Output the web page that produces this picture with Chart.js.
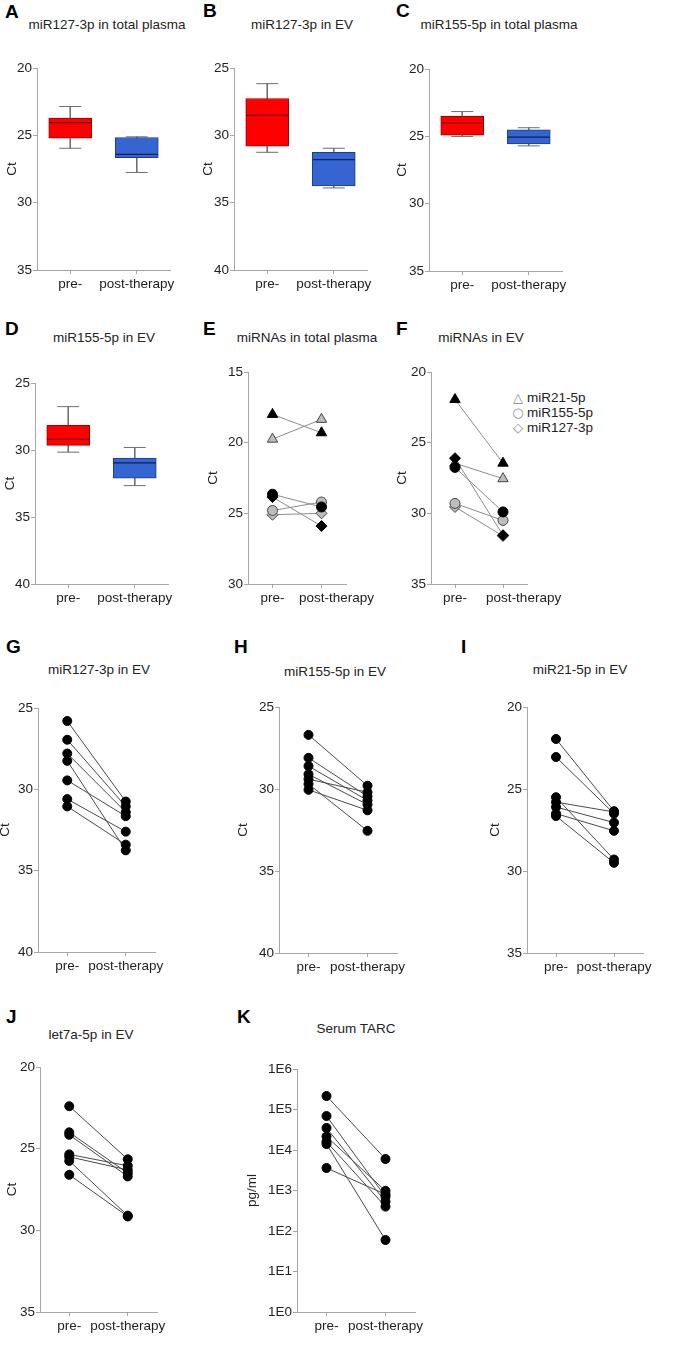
<!DOCTYPE html>
<html><head><meta charset="utf-8">
<script src="https://cdn.jsdelivr.net/npm/chart.js@4.4.0/dist/chart.umd.min.js"></script>
<style>
html,body{margin:0;padding:0;background:#fff;}
body{width:684px;height:1350px;position:relative;overflow:hidden;font-family:'Liberation Sans',Arial,sans-serif;color:#222;}
canvas{position:absolute;}
.lt{position:absolute;font-weight:bold;font-size:19px;line-height:19px;color:#000;}
.tt{position:absolute;font-size:13.5px;line-height:14px;white-space:nowrap;transform:translate(-50%,-50%);color:#222;}
.lg{position:absolute;font-size:13.5px;line-height:14px;white-space:nowrap;transform:translateY(-50%);color:#222;}
.sym{display:inline-block;width:12px;text-align:center;color:#8a8a8a;margin-right:3px;font-family:'DejaVu Sans',sans-serif;font-size:13px;}
</style></head><body>

<div class="lt" style="left:5px;top:2px">A</div>
<div class="lt" style="left:203px;top:1px">B</div>
<div class="lt" style="left:396px;top:1px">C</div>
<div class="lt" style="left:5px;top:319px">D</div>
<div class="lt" style="left:203px;top:319px">E</div>
<div class="lt" style="left:396px;top:319px">F</div>
<div class="lt" style="left:6px;top:637px">G</div>
<div class="lt" style="left:234px;top:637px">H</div>
<div class="lt" style="left:461px;top:637px">I</div>
<div class="lt" style="left:6px;top:1007px">J</div>
<div class="lt" style="left:237px;top:1007px">K</div>

<div class="tt" style="left:107px;top:25px">miR127-3p in total plasma</div>
<div class="tt" style="left:302px;top:25px">miR127-3p in EV</div>
<div class="tt" style="left:499px;top:25px">miR155-5p in total plasma</div>
<div class="tt" style="left:104px;top:338px">miR155-5p in EV</div>
<div class="tt" style="left:307px;top:338px">miRNAs in total plasma</div>
<div class="tt" style="left:481px;top:338px">miRNAs in EV</div>
<div class="tt" style="left:99px;top:670px">miR127-3p in EV</div>
<div class="tt" style="left:335px;top:672px">miR155-5p in EV</div>
<div class="tt" style="left:580px;top:670px">miR21-5p in EV</div>
<div class="tt" style="left:91px;top:1035px">let7a-5p in EV</div>
<div class="tt" style="left:356px;top:1029px">Serum TARC</div>

<div class="lg" style="left:512px;top:398px"><span class="sym">△</span>miR21-5p</div>
<div class="lg" style="left:512px;top:413px"><span class="sym">○</span>miR155-5p</div>
<div class="lg" style="left:512px;top:428px"><span class="sym">◇</span>miR127-3p</div>

<canvas id="cA"></canvas><canvas id="cB"></canvas><canvas id="cC"></canvas>
<canvas id="cD"></canvas><canvas id="cE"></canvas><canvas id="cF"></canvas>
<canvas id="cG"></canvas><canvas id="cH"></canvas><canvas id="cI"></canvas>
<canvas id="cJ"></canvas><canvas id="cK"></canvas>

<script>
// ---------------- DATA ----------------
const categories = ['pre-', 'post-therapy'];

// Box plots: [min, q1, median, q3, max] of Ct
const boxA_pre  = [22.85, 23.7, 24.05, 25.2, 25.95];
const boxA_post = [25.1, 25.15, 26.4, 26.65, 27.75];
const boxB_pre  = [26.15, 27.25, 28.5, 30.8, 31.25];
const boxB_post = [30.95, 31.25, 31.8, 33.75, 33.9];
const boxC_pre  = [23.15, 23.5, 24.0, 24.9, 25.0];
const boxC_post = [24.35, 24.5, 25.05, 25.55, 25.7];
const boxD_pre  = [26.75, 28.15, 29.2, 29.65, 30.15];
const boxD_post = [29.8, 30.6, 30.95, 32.1, 32.65];

// Panel E (total plasma), pre / post Ct of pooled samples
const E_miR21_black  = [18.0, 19.3];
const E_miR21_gray   = [19.75, 18.35];
const E_miR155_black = [23.65, 24.55];
const E_miR155_gray  = [24.8, 24.2];
const E_miR127_black = [23.85, 25.9];
const E_miR127_gray  = [25.1, 25.0];

// Panel F (EV)
const F_miR21_black  = [21.95, 26.45];
const F_miR21_gray   = [26.45, 27.55];
const F_miR155_black = [26.75, 29.9];
const F_miR155_gray  = [29.3, 30.5];
const F_miR127_black = [26.1, 31.55];
const F_miR127_gray  = [29.55, 31.6];

// Paired patient values (index i = same patient)
const G_pre  = [25.8, 26.95, 27.8, 28.25, 29.45, 30.6, 31.05];
const G_post = [30.75, 31.05, 31.4, 33.75, 31.65, 32.6, 33.4];
const H_pre  = [26.7, 28.1, 28.6, 29.1, 29.4, 29.7, 30.05];
const H_post = [29.8, 30.45, 30.7, 30.95, 30.2, 32.55, 31.3];
const I_pre  = [21.95, 23.05, 25.5, 25.8, 26.1, 26.5, 26.65];
const I_post = [26.35, 26.5, 29.3, 26.4, 27.05, 27.55, 29.5];
const J_pre  = [22.4, 24.0, 24.15, 25.35, 25.5, 25.75, 26.6];
const J_post = [25.65, 26.5, 26.7, 26.05, 26.3, 29.1, 29.15];
const K_pre  = [215000, 69000, 35000, 21500, 16000, 14000, 3600];
const K_post = [6000, 700, 530, 980, 400, 60, 800];

// Tick values / labels
const ctRangeA = [20, 35], ctRangeB = [25, 40], ctRangeC = [20, 35], ctRangeD = [25, 40];
const ctRangeE = [15, 30], ctRangeF = [20, 35];
const ctRangeG = [25, 40], ctRangeH = [25, 40], ctRangeI = [20, 35], ctRangeJ = [20, 35];
const kTicks = [1, 10, 100, 1000, 10000, 100000, 1000000];
const kTickLabels = ['1E0', '1E1', '1E2', '1E3', '1E4', '1E5', '1E6'];

// ---------------- STYLE / LAYOUT ----------------
Chart.defaults.font.family = "'Liberation Sans', Arial, sans-serif";
Chart.defaults.font.size = 13.5;
Chart.defaults.color = '#222';

const PAD_TOP = 12, PAD_RIGHT = 55, X_H = 30, BOX_W = 43;
const AXIS_COL = '#a6a6a6';
const RED = '#ff0000', RED_B = '#a00000', RED_M = '#700000';
const BLUE = '#3465d0', BLUE_B = '#1c3c8c', BLUE_M = '#0d1f55';

function place(id, g) {
  const c = document.getElementById(id);
  const yW = g.axisX - g.left;
  const w = yW + (g.right - g.axisX) + PAD_RIGHT;
  const h = PAD_TOP + (g.bottom - g.top) + X_H;
  c.width = w; c.height = h;
  c.style.left = g.left + 'px'; c.style.top = (g.top - PAD_TOP) + 'px';
  c.style.width = w + 'px'; c.style.height = h + 'px';
  return { c, yW };
}
function gridOpts() {
  return { display: true, offset: false, drawOnChartArea: false, drawTicks: true, tickLength: 4, color: AXIS_COL };
}
// postShift: number of leading spaces on the post label (label drawn right of its tick, as in the source)
function xScale(postShift) {
  return {
    type: 'category', labels: categories, offset: true,
    grid: gridOpts(), border: { display: true, color: AXIS_COL, width: 1 },
    ticks: { padding: 2, color: '#222', maxRotation: 0, autoSkip: false, font: { size: 13.5 },
      callback: function (v, i) {
        const lab = this.getLabelForValue(v);
        return (i === 1 && postShift) ? ' '.repeat(postShift) + lab : lab;
      } },
    afterFit(s) { s.height = X_H; }
  };
}
function yScale(yW, range, title) {
  return {
    type: 'linear', reverse: true, min: range[0], max: range[1],
    grid: gridOpts(), border: { display: true, color: AXIS_COL, width: 1 },
    ticks: { stepSize: 5, padding: 1, color: '#222', font: { size: 13.5 } },
    title: { display: true, text: title, padding: { top: 4, bottom: 4 }, color: '#222', font: { size: 13.5 } },
    afterFit(s) { s.width = yW; }
  };
}
function baseOptions(yW, yS, postShift) {
  return {
    responsive: false, animation: false, devicePixelRatio: 1, events: [],
    layout: { padding: { top: PAD_TOP, right: PAD_RIGHT, left: 0, bottom: 0 } },
    plugins: { legend: { display: false }, tooltip: { enabled: false }, title: { display: false } },
    scales: { x: xScale(postShift || 0), y: yS }
  };
}

function boxPanel(id, g, range, pre, post) {
  const { c, yW } = place(id, g);
  const whisk = (cat, s) => ({
    type: 'line', data: [{ x: cat, y: s[0] }, { x: cat, y: s[4] }],
    borderColor: '#6e6e6e', borderWidth: 1, pointStyle: 'line', pointRadius: 11,
    pointBorderColor: '#6e6e6e', pointBorderWidth: 1, order: 3
  });
  const med = (cat, s, col) => ({
    type: 'line', data: [{ x: cat, y: s[2] }], showLine: false, pointStyle: 'line',
    pointRadius: BOX_W / 2 - 0.5, pointBorderColor: col, pointBorderWidth: 1.2, order: 0
  });
  new Chart(c, {
    type: 'bar',
    data: {
      labels: categories,
      datasets: [
        { type: 'bar', data: [[pre[1], pre[3]], [post[1], post[3]]], backgroundColor: [RED, BLUE],
          borderColor: [RED_B, BLUE_B], borderWidth: 1, borderSkipped: false, barThickness: BOX_W, order: 1 },
        whisk(categories[0], pre), whisk(categories[1], post),
        med(categories[0], pre, RED_M), med(categories[1], post, BLUE_M)
      ]
    },
    options: baseOptions(yW, yScale(yW, range, 'Ct'))
  });
}

function pairPanel(id, g, yS, pre, post) {
  const { c, yW } = place(id, g);
  const ds = pre.map((v, i) => ({
    data: [v, post[i]], borderColor: '#4a4a4a', borderWidth: 1, pointRadius: 0, order: 2
  }));
  ds.push({ data: pre.map(v => ({ x: categories[0], y: v })), showLine: false, pointRadius: 4.5,
    pointBackgroundColor: '#000', pointBorderColor: '#000', pointBorderWidth: 1, order: 0 });
  ds.push({ data: post.map(v => ({ x: categories[1], y: v })), showLine: false, pointRadius: 4.5,
    pointBackgroundColor: '#000', pointBorderColor: '#000', pointBorderWidth: 1, order: 0 });
  new Chart(c, { type: 'line', data: { labels: categories, datasets: ds }, options: baseOptions(yW, yS(yW)) });
}

function markerPanel(id, g, range, series, postShift) {
  const { c, yW } = place(id, g);
  const ds = [];
  series.forEach(s => {
    ds.push({ data: s.v, borderColor: '#8c8c8c', borderWidth: 1, pointRadius: 0, order: 5 });
  });
  series.forEach(s => {
    ds.push({ data: s.v, showLine: false, pointStyle: s.style,
      pointRadius: s.style === 'circle' ? 5 : (s.style === 'triangle' ? 6 : 5.5),
      pointBackgroundColor: s.fill, pointBorderColor: s.fill === '#000' ? '#000' : '#444',
      pointBorderWidth: 1, order: s.fill === '#000' ? 0 : 1 });
  });
  new Chart(c, { type: 'line', data: { labels: categories, datasets: ds },
    options: baseOptions(yW, yScale(yW, range, 'Ct'), postShift) });
}

// ---------------- PANELS ----------------
boxPanel('cA', { left: 0, axisX: 37, top: 58, bottom: 270, right: 170 }, ctRangeA, boxA_pre, boxA_post);
boxPanel('cB', { left: 196, axisX: 234, top: 58, bottom: 270, right: 367 }, ctRangeB, boxB_pre, boxB_post);
boxPanel('cC', { left: 390, axisX: 429, top: 59, bottom: 271, right: 562 }, ctRangeC, boxC_pre, boxC_post);
boxPanel('cD', { left: -2, axisX: 35, top: 373, bottom: 584, right: 168 }, ctRangeD, boxD_pre, boxD_post);

const GRAY = '#bdbdbd';
markerPanel('cE', { left: 201, axisX: 248, top: 372, bottom: 584, right: 346 }, ctRangeE, [
  { v: E_miR21_black, style: 'triangle', fill: '#000' },
  { v: E_miR21_gray, style: 'triangle', fill: GRAY },
  { v: E_miR155_black, style: 'circle', fill: '#000' },
  { v: E_miR155_gray, style: 'circle', fill: GRAY },
  { v: E_miR127_black, style: 'rectRot', fill: '#000' },
  { v: E_miR127_gray, style: 'rectRot', fill: GRAY }
], 8);
markerPanel('cF', { left: 390, axisX: 431, top: 372, bottom: 584, right: 527 }, ctRangeF, [
  { v: F_miR21_black, style: 'triangle', fill: '#000' },
  { v: F_miR21_gray, style: 'triangle', fill: GRAY },
  { v: F_miR155_black, style: 'circle', fill: '#000' },
  { v: F_miR155_gray, style: 'circle', fill: GRAY },
  { v: F_miR127_black, style: 'rectRot', fill: '#000' },
  { v: F_miR127_gray, style: 'rectRot', fill: GRAY }
], 11);

pairPanel('cG', { left: -7, axisX: 38, top: 708, bottom: 952, right: 155 }, yW => yScale(yW, ctRangeG, 'Ct'), G_pre, G_post);
pairPanel('cH', { left: 231, axisX: 279, top: 707, bottom: 953, right: 397 }, yW => yScale(yW, ctRangeH, 'Ct'), H_pre, H_post);
pairPanel('cI', { left: 483, axisX: 527, top: 707, bottom: 953, right: 643 }, yW => yScale(yW, ctRangeI, 'Ct'), I_pre, I_post);
pairPanel('cJ', { left: 0, axisX: 40, top: 1067, bottom: 1312, right: 157 }, yW => yScale(yW, ctRangeJ, 'Ct'), J_pre, J_post);
pairPanel('cK', { left: 240, axisX: 297, top: 1069, bottom: 1312, right: 415 }, yW => ({
  type: 'logarithmic', min: kTicks[0], max: kTicks[kTicks.length - 1],
  grid: gridOpts(), border: { display: true, color: AXIS_COL, width: 1 },
  afterBuildTicks(s) { s.ticks = kTicks.map(v => ({ value: v })); },
  ticks: { padding: 1, color: '#222', font: { size: 13.5 }, autoSkip: false,
    callback: (v, i) => kTickLabels[i] },
  title: { display: true, text: 'pg/ml', padding: { top: 4, bottom: 4 }, color: '#222', font: { size: 13.5 } },
  afterFit(s) { s.width = yW; }
}), K_pre, K_post);
</script>
</body></html>
